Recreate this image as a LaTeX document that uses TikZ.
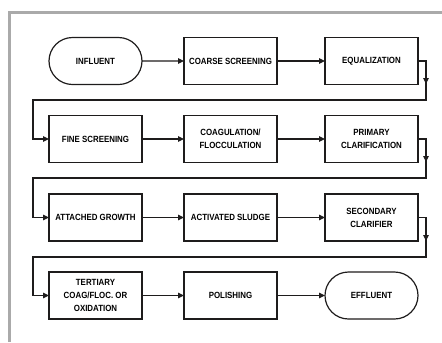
\documentclass[tikz,border=0pt]{standalone}
\usepackage{fontspec}
\usepackage{tikz}
\newfontfamily\stagefont[FakeStretch=0.88, BoldFont={Liberation Sans Bold}, BoldFeatures={FakeStretch=0.88}]{Liberation Sans}
\definecolor{linecol}{RGB}{30,28,28}
\definecolor{framegray}{RGB}{170,170,170}
\usetikzlibrary{shapes.misc}
\usetikzlibrary{arrows.meta}
\tikzstyle{procbox}=[draw=linecol, line width=1.2bp, inner sep=0, outer sep=0,
                     minimum width=93bp, minimum height=47bp, align=center,
                     font=\stagefont\bfseries\fontsize{9}{13}\selectfont]
\tikzstyle{endbox}=[procbox, rounded rectangle]
\tikzstyle{link}=[draw=linecol, line width=1.2bp]
\tikzstyle{flow}=[link, -{Triangle[length=6bp, width=5.5bp]}]
\tikzstyle{frame}=[draw=framegray, line width=3bp]
\tikzstyle{treatment}=[x=1bp, y=-1bp,
                       % Fixed page size of the figure.
                       execute at begin picture={\useasboundingbox (0, 0) rectangle (442, 342);}]

\begin{document}
\begin{tikzpicture}[treatment]
        \draw[frame] (9.5, 342) -- (9.5, 12.5) -- (442, 12.5);
        \node[endbox]  (influent)  at (95.5, 61)    {INFLUENT};
        \node[procbox] (coarse)    at (230.5, 61)   {COARSE SCREENING};
        \node[procbox] (equal)     at (371.5, 61)   {EQUALIZATION};
        \node[procbox] (fine)      at (95.5, 139)   {FINE SCREENING};
        \node[procbox] (coag)      at (230.5, 139)  {COAGULATION/\\FLOCCULATION};
        \node[procbox] (primary)   at (371.5, 139)  {PRIMARY\\CLARIFICATION};
        \node[procbox] (attached)  at (95.5, 217.5) {ATTACHED GROWTH};
        \node[procbox] (activated) at (230.5, 217.5){ACTIVATED SLUDGE};
        \node[procbox] (secondary) at (371.5, 217.5){SECONDARY\\CLARIFIER};
        \node[procbox] (tertiary)  at (95.5, 295.5) {TERTIARY\\COAG/FLOC. OR\\OXIDATION};
        \node[procbox] (polish)    at (230.5, 295.5){POLISHING};
        \node[endbox]  (effluent)  at (371.5, 295.5){EFFLUENT};
        % Return lines between the rows.
        \coordinate (drop1) at (426, 84);
        \coordinate (turn1) at (426, 100);
        \coordinate (back1) at (33, 100);
        \coordinate (drop2) at (426, 162);
        \coordinate (turn2) at (426, 178);
        \coordinate (back2) at (33, 178);
        \coordinate (drop3) at (426, 241);
        \coordinate (turn3) at (426, 257);
        \coordinate (back3) at (33, 257);
        \draw[flow] (influent) -- (coarse);
        \draw[flow] (coarse) -- (equal);
        \draw[flow] (equal.east) -| (turn1) -- (back1) |- (fine);
        \draw[flow] (equal.east) -| (drop1);
        \draw[flow] (fine) -- (coag);
        \draw[flow] (coag) -- (primary);
        \draw[flow] (primary.east) -| (turn2) -- (back2) |- (attached);
        \draw[flow] (primary.east) -| (drop2);
        \draw[flow] (attached) -- (activated);
        \draw[flow] (activated) -- (secondary);
        \draw[flow] (secondary.east) -| (turn3) -- (back3) |- (tertiary);
        \draw[flow] (secondary.east) -| (drop3);
        \draw[flow] (tertiary) -- (polish);
        \draw[flow] (polish) -- (effluent);
    \end{tikzpicture}
\end{document}
